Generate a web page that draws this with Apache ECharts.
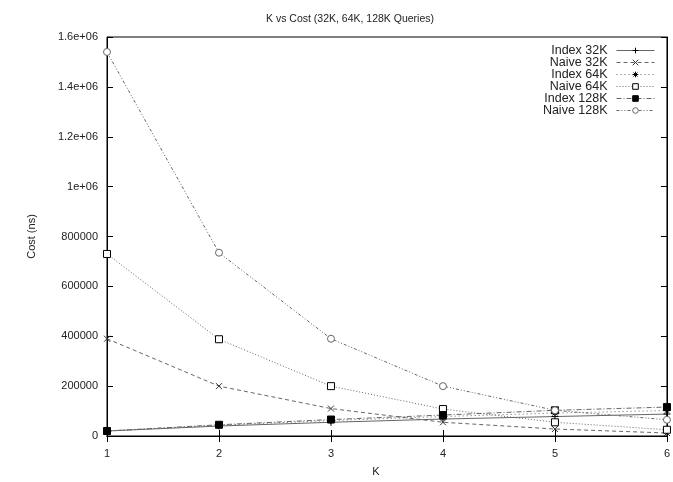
<!DOCTYPE html>
<html><head><meta charset="utf-8">
<script src="https://cdn.jsdelivr.net/npm/echarts@6/dist/echarts.min.js"></script>
<style>html,body{margin:0;padding:0;background:#fff}#c{width:673px;height:482px}</style>
</head><body><div id="c"></div>
<script>
const ks = [1, 2, 3, 4, 5, 6];
const seriesNames = ['Index 32K', 'Naive 32K', 'Index 64K', 'Naive 64K', 'Index 128K', 'Naive 128K'];
const index32 = [20000, 40000, 55000, 68000, 78000, 88000];
const naive32 = [390000, 200000, 110000, 55000, 28000, 12000];
const index64 = [20000, 43000, 62000, 78000, 92000, 102000];
const naive64 = [730000, 388000, 200000, 108000, 55000, 25000];
const index128 = [20000, 45000, 66000, 84000, 103000, 116000];
const naive128 = [1540000, 735000, 390000, 200000, 103000, 65000];
const yTickLabels = ['0', '200000', '400000', '600000', '800000', '1e+06', '1.2e+06', '1.4e+06', '1.6e+06'];
const xTickLabels = ['1', '2', '3', '4', '5', '6'];

const FONT = 'Liberation Sans, Arial, sans-serif';
const plusPath = 'path://M0,5L10,5M5,0L5,10';
const crossPath = 'path://M0,0L10,10M10,0L0,10';
const starPath = 'path://M0,5L10,5M5,0L5,10M1.5,1.5L8.5,8.5M8.5,1.5L1.5,8.5';

function pairs(vals) { return ks.map((k, i) => [k, vals[i]]); }

const styles = [
  { vals: index32, symbol: plusPath, size: 7, fill: 'transparent', border: '#000', dash: 'solid' },
  { vals: naive32, symbol: crossPath, size: 6, fill: 'transparent', border: '#333', dash: [4, 3] },
  { vals: index64, symbol: starPath, size: 7, fill: 'transparent', border: '#000', dash: [1, 3] },
  { vals: naive64, symbol: 'rect', size: 7, fill: '#fff', border: '#000', dash: [1, 2] },
  { vals: index128, symbol: 'rect', size: 7, fill: '#000', border: '#000', dash: [5, 2, 1, 2] },
  { vals: naive128, symbol: 'circle', size: 7, fill: '#fff', border: '#666', dash: [3, 2, 1, 2, 1, 2] }
];

const series = styles.map((s, i) => ({
  name: seriesNames[i],
  type: 'line',
  data: pairs(s.vals),
  symbol: s.symbol,
  symbolSize: s.size,
  showAllSymbol: true,
  itemStyle: { color: s.fill, borderColor: s.border, borderWidth: 1 },
  lineStyle: { color: '#666', width: 1, type: s.dash },
  emphasis: { disabled: true },
  animation: false
}));

const chart = echarts.init(document.getElementById('c'), null, { renderer: 'canvas' });
chart.setOption({
  animation: false,
  backgroundColor: '#fff',
  textStyle: { fontFamily: FONT },
  title: {
    text: 'K vs Cost (32K, 64K, 128K Queries)',
    left: 345, textAlign: 'center', top: 9,
    textStyle: { fontFamily: FONT, fontSize: 10.5, fontWeight: 'normal', color: '#222' }
  },
  legend: {
    data: seriesNames,
    orient: 'vertical',
    right: 18, top: 44,
    align: 'right',
    padding: 0,
    itemWidth: 38, itemHeight: 7, itemGap: -1,
    textStyle: { fontFamily: FONT, fontSize: 12.5, lineHeight: 12, color: '#222', padding: [0, 4, 0, 0] },
    lineStyle: { width: 1 },
    itemStyle: { borderWidth: 1 },
    selectedMode: false
  },
  grid: { left: 107, right: 5, top: 37, bottom: 44, show: true, borderColor: '#000', borderWidth: 1, containLabel: false },
  xAxis: [{
    type: 'value', min: 1, max: 6, interval: 1,
    name: 'K', nameLocation: 'middle', nameGap: 30,
    nameTextStyle: { fontFamily: FONT, fontSize: 11, color: '#222', padding: [0, 22, 0, 0] },
    axisLine: { lineStyle: { color: '#000', width: 1 } },
    axisTick: { inside: true, length: 6, lineStyle: { color: '#000' } },
    axisLabel: { margin: 12, fontFamily: FONT, fontSize: 11, color: '#222', formatter: v => xTickLabels[Math.round(v) - 1] },
    splitLine: { show: false }
  }, {
    type: 'value', min: 1, max: 6, interval: 1, position: 'top',
    axisLine: { lineStyle: { color: '#000', width: 1 } },
    axisTick: { inside: true, length: 6, lineStyle: { color: '#000' } },
    axisLabel: { show: false }, splitLine: { show: false }
  }],
  yAxis: [{
    type: 'value', min: 0, max: 1600000, interval: 200000,
    name: 'Cost (ns)', nameLocation: 'middle', nameGap: 70, nameRotate: 90,
    nameTextStyle: { fontFamily: FONT, fontSize: 11, color: '#222' },
    axisLine: { show: true, lineStyle: { color: '#000', width: 1 } },
    axisTick: { show: true, inside: true, length: 6, lineStyle: { color: '#000' } },
    axisLabel: { margin: 9, fontFamily: FONT, fontSize: 11, color: '#222', formatter: v => yTickLabels[Math.round(v / 200000)] },
    splitLine: { show: false }
  }, {
    type: 'value', min: 0, max: 1600000, interval: 200000, position: 'right',
    axisLine: { show: true, lineStyle: { color: '#000', width: 1 } },
    axisTick: { show: true, inside: true, length: 6, lineStyle: { color: '#000' } },
    axisLabel: { show: false }, splitLine: { show: false }
  }],
  series: series
});
</script>
</body></html>
